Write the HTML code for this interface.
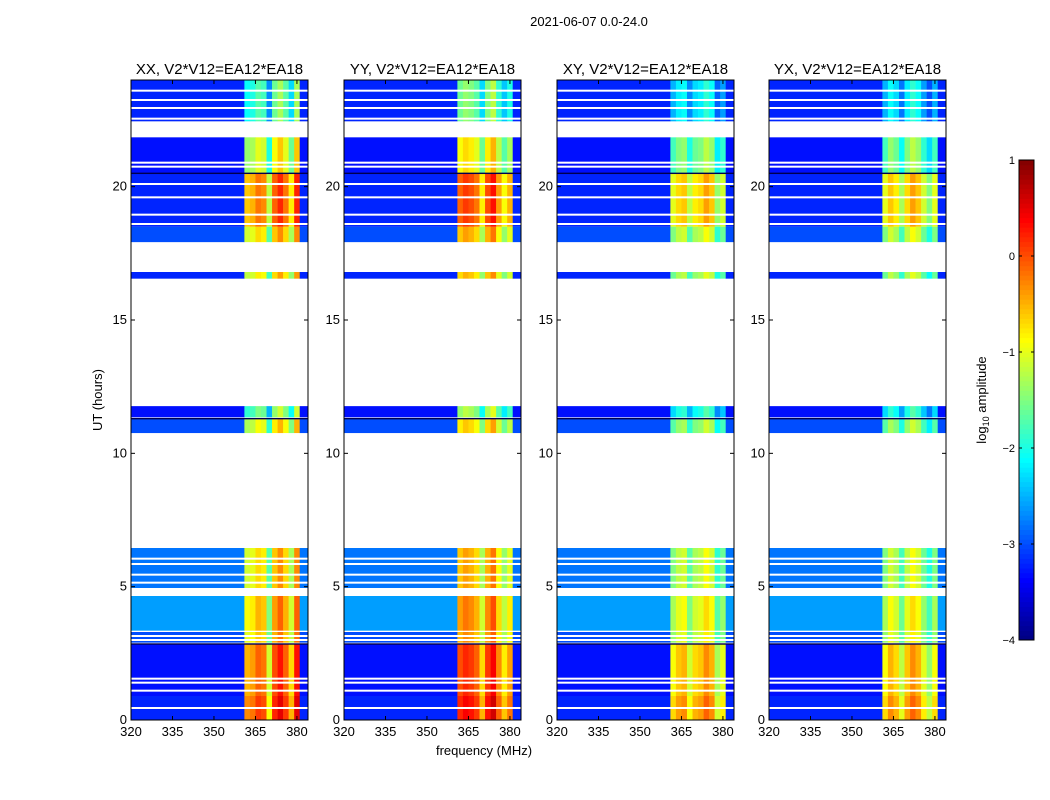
<!DOCTYPE html>
<html><head><meta charset="utf-8"><style>
body{margin:0;background:#fff;}
svg{display:block;font-family:"Liberation Sans",sans-serif;}
</style></head><body>
<svg id="c" width="1050" height="800" viewBox="0 0 1050 800">
<text x="589" y="26" font-size="13" text-anchor="middle">2021-06-07 0.0-24.0</text>
<text x="484" y="755" font-size="13" text-anchor="middle">frequency (MHz)</text>
<text x="102" y="400" font-size="13" text-anchor="middle" transform="rotate(-90 102 400)">UT (hours)</text>
<text x="986" y="400" font-size="13" text-anchor="middle" transform="rotate(-90 986 400)">log<tspan font-size="9" dy="3">10</tspan><tspan dy="-3"> amplitude</tspan></text>
</svg>
<script>
const panelTitles=["XX, V2*V12=EA12*EA18","YY, V2*V12=EA12*EA18","XY, V2*V12=EA12*EA18","YX, V2*V12=EA12*EA18"];
const freqEdges=[320,361,363,365,367,369,371,373,375,377,379,381,384];
const profXX=[null,-0.7,-0.6,-0.3,-0.4,-1.3,-0.2,0.1,-0.3,-0.9,0.1,null];
const profYY=[null,-0.2,0.0,-0.1,-0.3,-0.9,-0.1,0.2,-0.5,-1.0,-0.6,null];
const profXY=[null,-1.1,-0.8,-0.7,-1.3,-0.9,-0.8,-0.5,-0.7,-1.5,-1.2,null];
const profYX=[null,-1.1,-0.7,-0.9,-1.4,-0.8,-0.5,-0.7,-1.2,-1.6,-1.1,null];
const blockStart=[0,0.9,2.9,3.35,4.95,10.76,11.35,16.55,17.92,18.5,20.5,22.45];
const blockEnd=[0.9,2.85,3.3,4.65,6.45,11.3,11.77,16.8,18.5,20.5,21.85,24];
const blockBand=[0.4,0.2,-0.3,-0.2,-0.4,-0.6,-1.2,-0.5,-0.4,0.1,-0.7,-1.4];
const blockBg=[-3.2,-3.3,-3.0,-2.6,-2.8,-3.0,-3.3,-3.2,-3.0,-3.2,-3.3,-3.2];
const whiteLines=[0.45,1.1,1.4,1.55,3.0,3.15,5.15,5.45,5.85,6.05,18.6,18.95,19.6,20.1,20.75,20.9,22.55,22.95,23.25,23.6];
const darkLines=[2.85,11.3,20.5];
const xTicks=[320,335,350,365,380];
const yTicks=[0,5,10,15,20];
const cbTicks=[1,0,-1,-2,-3,-4];
const profiles=[profXX,profYY,profXY,profYX];
const NS="http://www.w3.org/2000/svg";
const svg=document.getElementById('c');
const panelLeft=[131,344,557,769],PW=177,PT=80,PB=720;
function cl(v){return Math.max(0,Math.min(1,v));}
function jet(v){let t=cl((v+4)/5);const r=cl(1.5-Math.abs(4*t-3)),g=cl(1.5-Math.abs(4*t-2)),b=cl(1.5-Math.abs(4*t-1));return `rgb(${Math.round(r*255)},${Math.round(g*255)},${Math.round(b*255)})`;}
function el(tag,attrs,parent){const e=document.createElementNS(NS,tag);for(const k in attrs)e.setAttribute(k,attrs[k]);(parent||svg).appendChild(e);return e;}
const yS=h=>PB-(h/24)*(PB-PT);
panelLeft.forEach((L,p)=>{
  const xS=f=>L+(f-320)/64*PW;
  const g=el('g',{});
  
  
  for(let b=0;b<blockStart.length;b++){
    for(let i=0;i<freqEdges.length-1;i++){
      const pv=profiles[p][i];
      const v=pv===null?blockBg[b]:Math.min(1,pv+blockBand[b]);
      const r=el('rect',{x:xS(freqEdges[i]),y:yS(blockEnd[b]),width:xS(freqEdges[i+1])-xS(freqEdges[i])+0.3,height:yS(blockStart[b])-yS(blockEnd[b]),fill:jet(v)},g);
      
      
    }
  }
  whiteLines.forEach(h=>{const r=el('rect',{x:L,y:yS(h)-1,width:PW,height:2,fill:'#fff'},g);
    
    });
  darkLines.forEach(h=>{const r=el('rect',{x:L,y:yS(h)-0.7,width:PW,height:1.4,fill:'#000050'},g);
    
    });
  const fr=el('rect',{x:L,y:PT,width:PW,height:PB-PT,fill:'none',stroke:'#000','stroke-width':1},g);
  
  
  const t=el('text',{x:L+PW/2,y:PT-6,'font-size':15,'text-anchor':'middle'},g);t.textContent=panelTitles[p];
  
  
  xTicks.forEach(f=>{const x=xS(f);
    el('line',{x1:x,x2:x,y1:PB,y2:PB-4,stroke:'#000'},g);el('line',{x1:x,x2:x,y1:PT,y2:PT+4,stroke:'#000'},g);
    const tx=el('text',{x:x,y:PB+16,'font-size':13,'text-anchor':'middle'},g);tx.textContent=f;
    
    });
  yTicks.forEach(h=>{const y=yS(h);
    el('line',{x1:L,x2:L+4,y1:y,y2:y,stroke:'#000'},g);el('line',{x1:L+PW,x2:L+PW-4,y1:y,y2:y,stroke:'#000'},g);
    const ty=el('text',{x:L-4,y:y+4,'font-size':13,'text-anchor':'end'},g);ty.textContent=h;
    
    });
});
const cb=el('g',{});


const CT=160,CBt=640,CX=1019,CW=15;
const cbY=v=>CBt-(v+4)/5*(CBt-CT);
for(let k=0;k<100;k++){const v0=-4+k*0.05;
  el('rect',{x:CX,y:cbY(v0+0.05),width:CW,height:cbY(v0)-cbY(v0+0.05)+0.5,fill:jet(v0+0.025)},cb);}
el('rect',{x:CX,y:CT,width:CW,height:CBt-CT,fill:'none',stroke:'#000'},cb);
cbTicks.forEach(v=>{const y=cbY(v);
  el('line',{x1:CX,x2:CX+3,y1:y,y2:y,stroke:'#000'},cb);el('line',{x1:CX+CW,x2:CX+CW-3,y1:y,y2:y,stroke:'#000'},cb);
  const t=el('text',{x:CX-4,y:y+4,'font-size':11,'text-anchor':'end'},cb);t.textContent=v<0?'\u2212'+(-v):v;
  
  });
</script>
</body></html>
